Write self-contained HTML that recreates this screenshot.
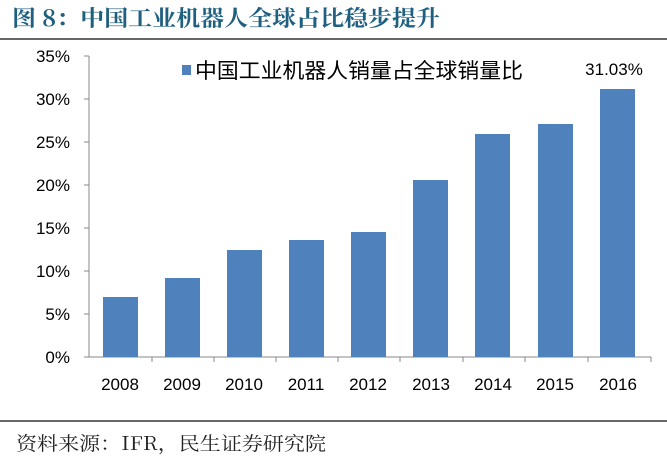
<!DOCTYPE html>
<html><head><meta charset="utf-8"><style>
body{margin:0;background:#fff;}
svg{display:block;}
</style></head><body>
<svg width="667" height="464" xmlns="http://www.w3.org/2000/svg" font-family="Liberation Sans, Noto Sans CJK SC, sans-serif">
<text x="12" y="26" font-size="22" font-weight="bold" fill="#1f5f7f" font-family="Noto Serif CJK SC, Noto Sans CJK SC, serif" textLength="428" lengthAdjust="spacingAndGlyphs">图 8：中国工业机器人全球占比稳步提升</text>
<line x1="0" y1="39" x2="667" y2="39" stroke="#333" stroke-width="1.5"/>
<g font-size="17" fill="#000" text-anchor="end">
<text x="70" y="62">35%</text><text x="70" y="105">30%</text><text x="70" y="148">25%</text>
<text x="70" y="191">20%</text><text x="70" y="234">15%</text><text x="70" y="277">10%</text>
<text x="70" y="320">5%</text><text x="70" y="363">0%</text>
</g>
<g stroke="#888" stroke-width="1">
<line x1="89" y1="56" x2="89" y2="357"/>
<line x1="84" y1="56" x2="89" y2="56"/><line x1="84" y1="99" x2="89" y2="99"/><line x1="84" y1="142" x2="89" y2="142"/>
<line x1="84" y1="185" x2="89" y2="185"/><line x1="84" y1="228" x2="89" y2="228"/><line x1="84" y1="271" x2="89" y2="271"/>
<line x1="84" y1="314" x2="89" y2="314"/>
<line x1="84" y1="357" x2="651" y2="357"/>
<line x1="152" y1="357" x2="152" y2="362"/><line x1="214" y1="357" x2="214" y2="362"/><line x1="276" y1="357" x2="276" y2="362"/>
<line x1="338" y1="357" x2="338" y2="362"/><line x1="400" y1="357" x2="400" y2="362"/><line x1="463" y1="357" x2="463" y2="362"/>
<line x1="525" y1="357" x2="525" y2="362"/><line x1="588" y1="357" x2="588" y2="362"/><line x1="651" y1="357" x2="651" y2="362"/>
</g>
<g fill="#4f81bd">
<rect x="103" y="297" width="35" height="60"/>
<rect x="165" y="278" width="35" height="79"/>
<rect x="227" y="250" width="35" height="107"/>
<rect x="289" y="240" width="35" height="117"/>
<rect x="351" y="232" width="35" height="125"/>
<rect x="413" y="180" width="35" height="177"/>
<rect x="475" y="134" width="35" height="223"/>
<rect x="538" y="124" width="35" height="233"/>
<rect x="600" y="89" width="35" height="268"/>
</g>
<g font-size="17" fill="#000" text-anchor="middle">
<text x="120" y="390">2008</text><text x="182" y="390">2009</text><text x="244" y="390">2010</text>
<text x="306" y="390">2011</text><text x="368" y="390">2012</text><text x="431" y="390">2013</text>
<text x="493" y="390">2014</text><text x="555" y="390">2015</text><text x="618" y="390">2016</text>
<text x="614" y="75">31.03%</text>
</g>
<rect x="182" y="65" width="9" height="10" fill="#4f81bd"/>
<text x="195" y="78" font-size="21" fill="#000" textLength="328" lengthAdjust="spacingAndGlyphs">中国工业机器人销量占全球销量比</text>
<line x1="0" y1="421" x2="667" y2="421" stroke="#333" stroke-width="1.5"/>
<text x="16" y="450" font-size="19" fill="#222" font-family="Noto Serif CJK SC, serif" textLength="310" lengthAdjust="spacingAndGlyphs">资料来源：IFR，民生证券研究院</text>
</svg>
</body></html>
